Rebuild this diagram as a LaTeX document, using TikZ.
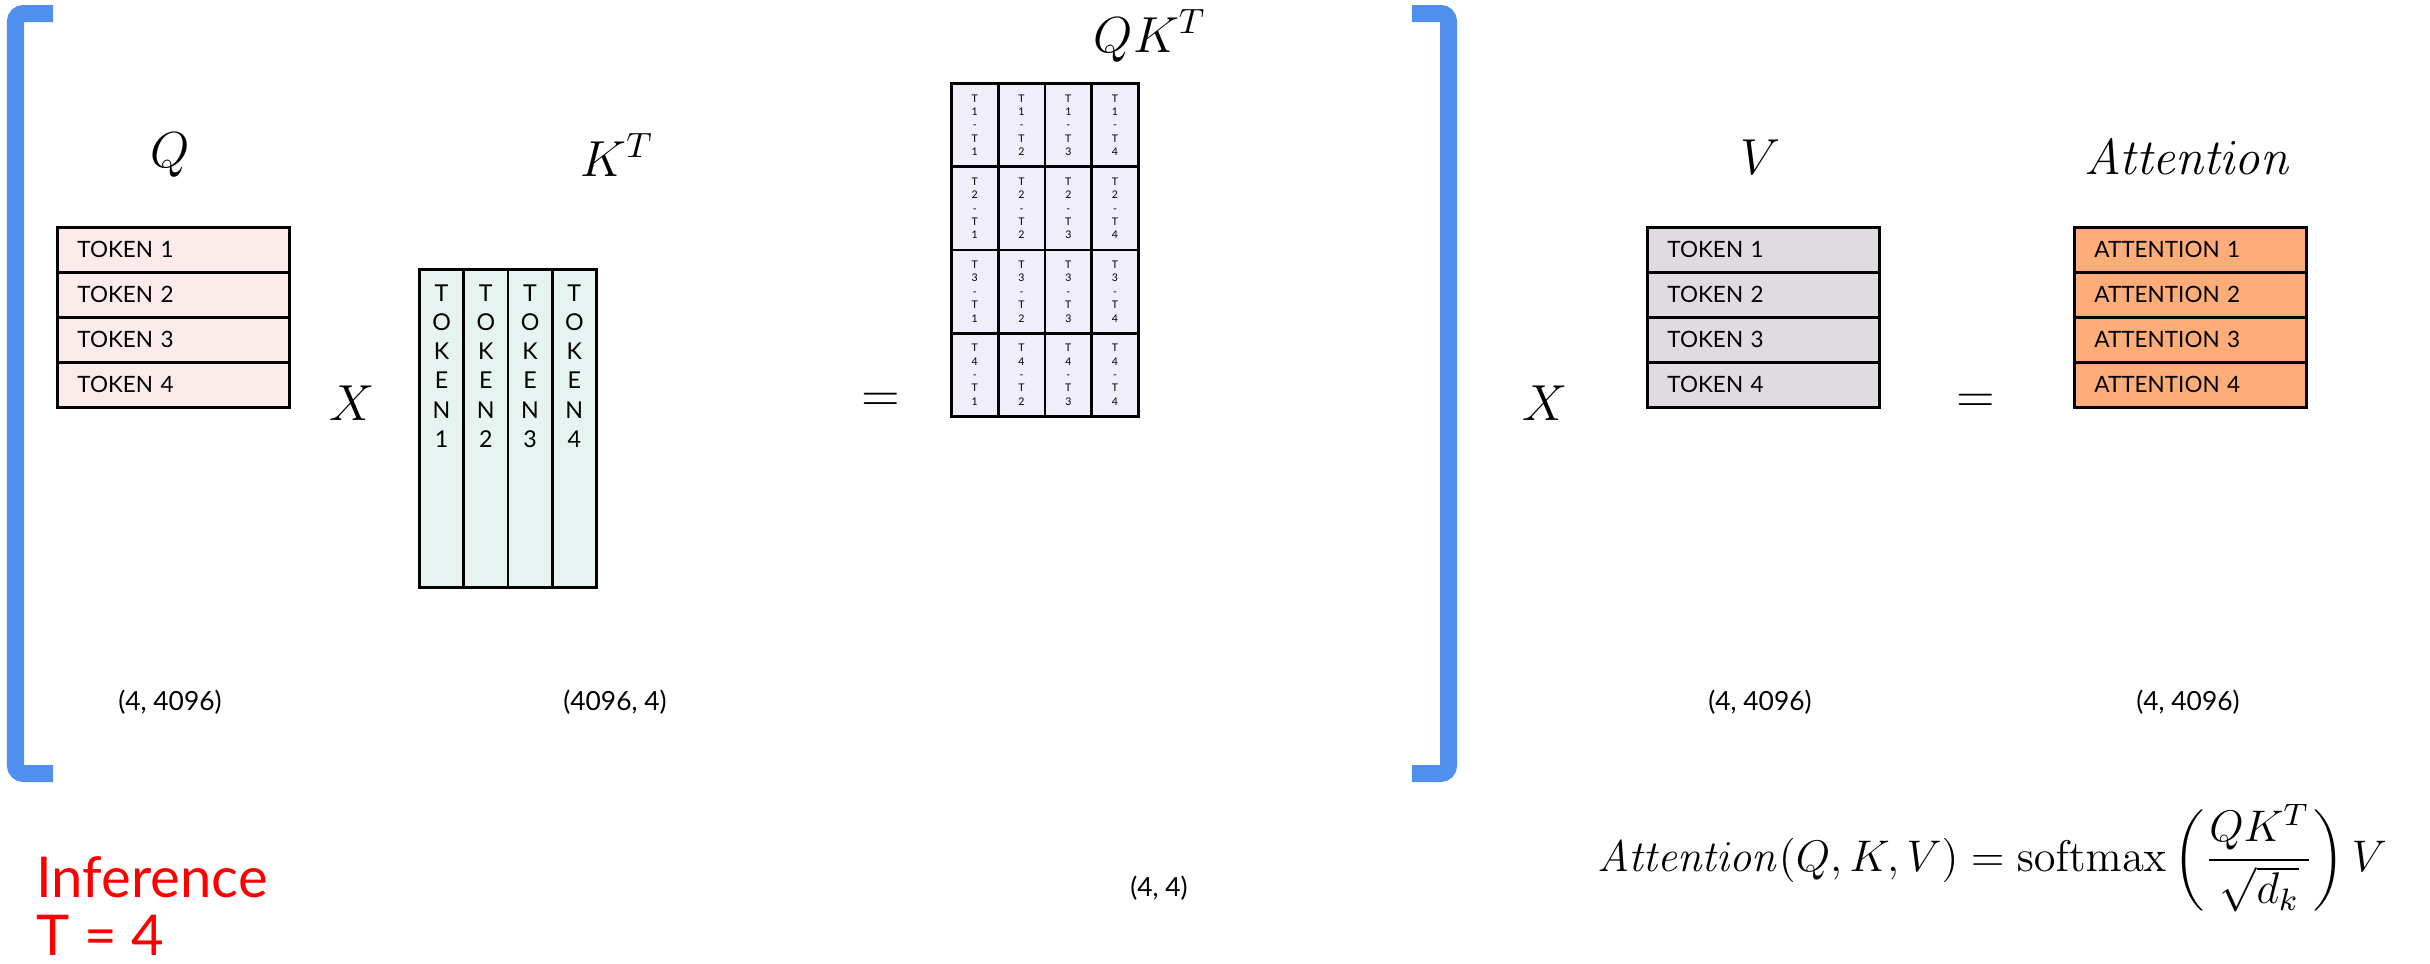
\RequirePackage{fix-cm}
\documentclass[tikz,border=0pt]{standalone}
\usepackage{amsmath}
\usepackage[no-math]{fontspec}
\setmainfont{Lato}
\usetikzlibrary{positioning}

\definecolor{bracketblue}{HTML}{4F8FEE}
\definecolor{qpink}{HTML}{FBEBEA}
\definecolor{kteal}{HTML}{E7F3F0}
\definecolor{qklav}{HTML}{F0EEFA}
\definecolor{vgray}{HTML}{DFDBE0}
\definecolor{attnorange}{HTML}{FFAD78}

\tikzset{
  rowbox/.style={draw=black, line width=0.8pt, minimum height=0.45cm, text width=1.92cm,
    inner xsep=0.2cm, inner ysep=0pt, align=left, anchor=north west,
    font=\fontsize{6.4}{7}\selectfont},
  colbox/.style={draw=black, line width=0.8pt, fill=kteal, minimum width=0.4425cm,
    minimum height=3.18cm, inner sep=0pt, anchor=north west},
  coltext/.style={inner sep=0pt, align=center, font=\fontsize{6.6}{8.3}\selectfont},
  cellbox/.style={draw=black, line width=0.8pt, fill=qklav, minimum width=0.4675cm,
    minimum height=0.8325cm, inner sep=0pt, anchor=north west, align=center,
    font=\fontsize{3}{3.8}\selectfont},
  mlabel/.style={font=\fontsize{14.4}{16}\selectfont},
  dimlabel/.style={font=\fontsize{7.5}{8}\selectfont},
  bracket/.style={draw=bracketblue, line width=0.17cm, rounded corners=0.08cm}
}

\begin{document}
\begin{tikzpicture}[x=0.01cm,y=-0.01cm]
  \useasboundingbox (0,0) rectangle (2430,963);

  % brackets
  \draw[bracket] (53,13.5) -- (15.5,13.5) -- (15.5,773.5) -- (53,773.5);
  \draw[bracket] (1412,13.5) -- (1448.5,13.5) -- (1448.5,773.5) -- (1412,773.5);

  % labels over the matrices
  \node[mlabel] (qlab) at (170,155) {$Q$};
  \node[mlabel] (klab) at (617,155) {$K^T$};
  \node[mlabel] (qklab) at (1150,36) {$QK^T$};
  \node[mlabel] (vlab) at (1760,157) {$V$};
  \node[mlabel] (alab) at (2188,157) {$\mathit{Attention}$};

  % Q
  \foreach \i in {1,...,4}
    \node[rowbox, fill=qpink] (q\i) at (56,{226+45*(\i-1)}) {TOKEN \i};

  \node[mlabel] (times1) at (352,403) {$X$};

  % K transposed
  \foreach \i in {1,...,4} {
    \node[colbox] (k\i) at ({418+44.25*(\i-1)},268) {};
    \node[coltext, below=0.16cm of k\i.north] (kt\i) {T\\O\\K\\E\\N\\\i};
  }

  \node[mlabel] (eq1) at (881,402) {$=$};

  % QK^T
  \foreach \r in {1,...,4}
    \foreach \c in {1,...,4}
      \node[cellbox] (qk\r\c) at ({950+46.75*(\c-1)},{82+83.25*(\r-1)}) {T\\\r\\-\\T\\\c};

  \node[mlabel] (times2) at (1545,403) {$X$};

  % V
  \foreach \i in {1,...,4}
    \node[rowbox, fill=vgray] (v\i) at (1646,{226+45*(\i-1)}) {TOKEN \i};

  \node[mlabel] (eq2) at (1976,403) {$=$};

  % Attention
  \foreach \i in {1,...,4}
    \node[rowbox, fill=attnorange] (a\i) at (2073,{226+45*(\i-1)}) {ATTENTION \i};

  % shapes
  \node[dimlabel] (qdim) at (170,702) {(4, 4096)};
  \node[dimlabel] (kdim) at (615,702) {(4096, 4)};
  \node[dimlabel] (qkdim) at (1159,888) {(4, 4)};
  \node[dimlabel] (vdim) at (1760,702) {(4, 4096)};
  \node[dimlabel] (adim) at (2188,702) {(4, 4096)};

  % formula
  \node[font=\fontsize{12.6}{14}\selectfont] (formula) at (1992,858)
    {$\mathit{Attention}(Q,K,V)=\mathrm{softmax}\left(\dfrac{QK^T}{\sqrt{d_k}}\right)V$};

  \node[anchor=base west, text=red, font=\fontsize{16}{18}\selectfont] (infer) at (24,897) {Inference};
  \node[anchor=base west, text=red, font=\fontsize{16}{18}\selectfont] (tval) at (24,955) {T = 4};
\end{tikzpicture}
\end{document}
